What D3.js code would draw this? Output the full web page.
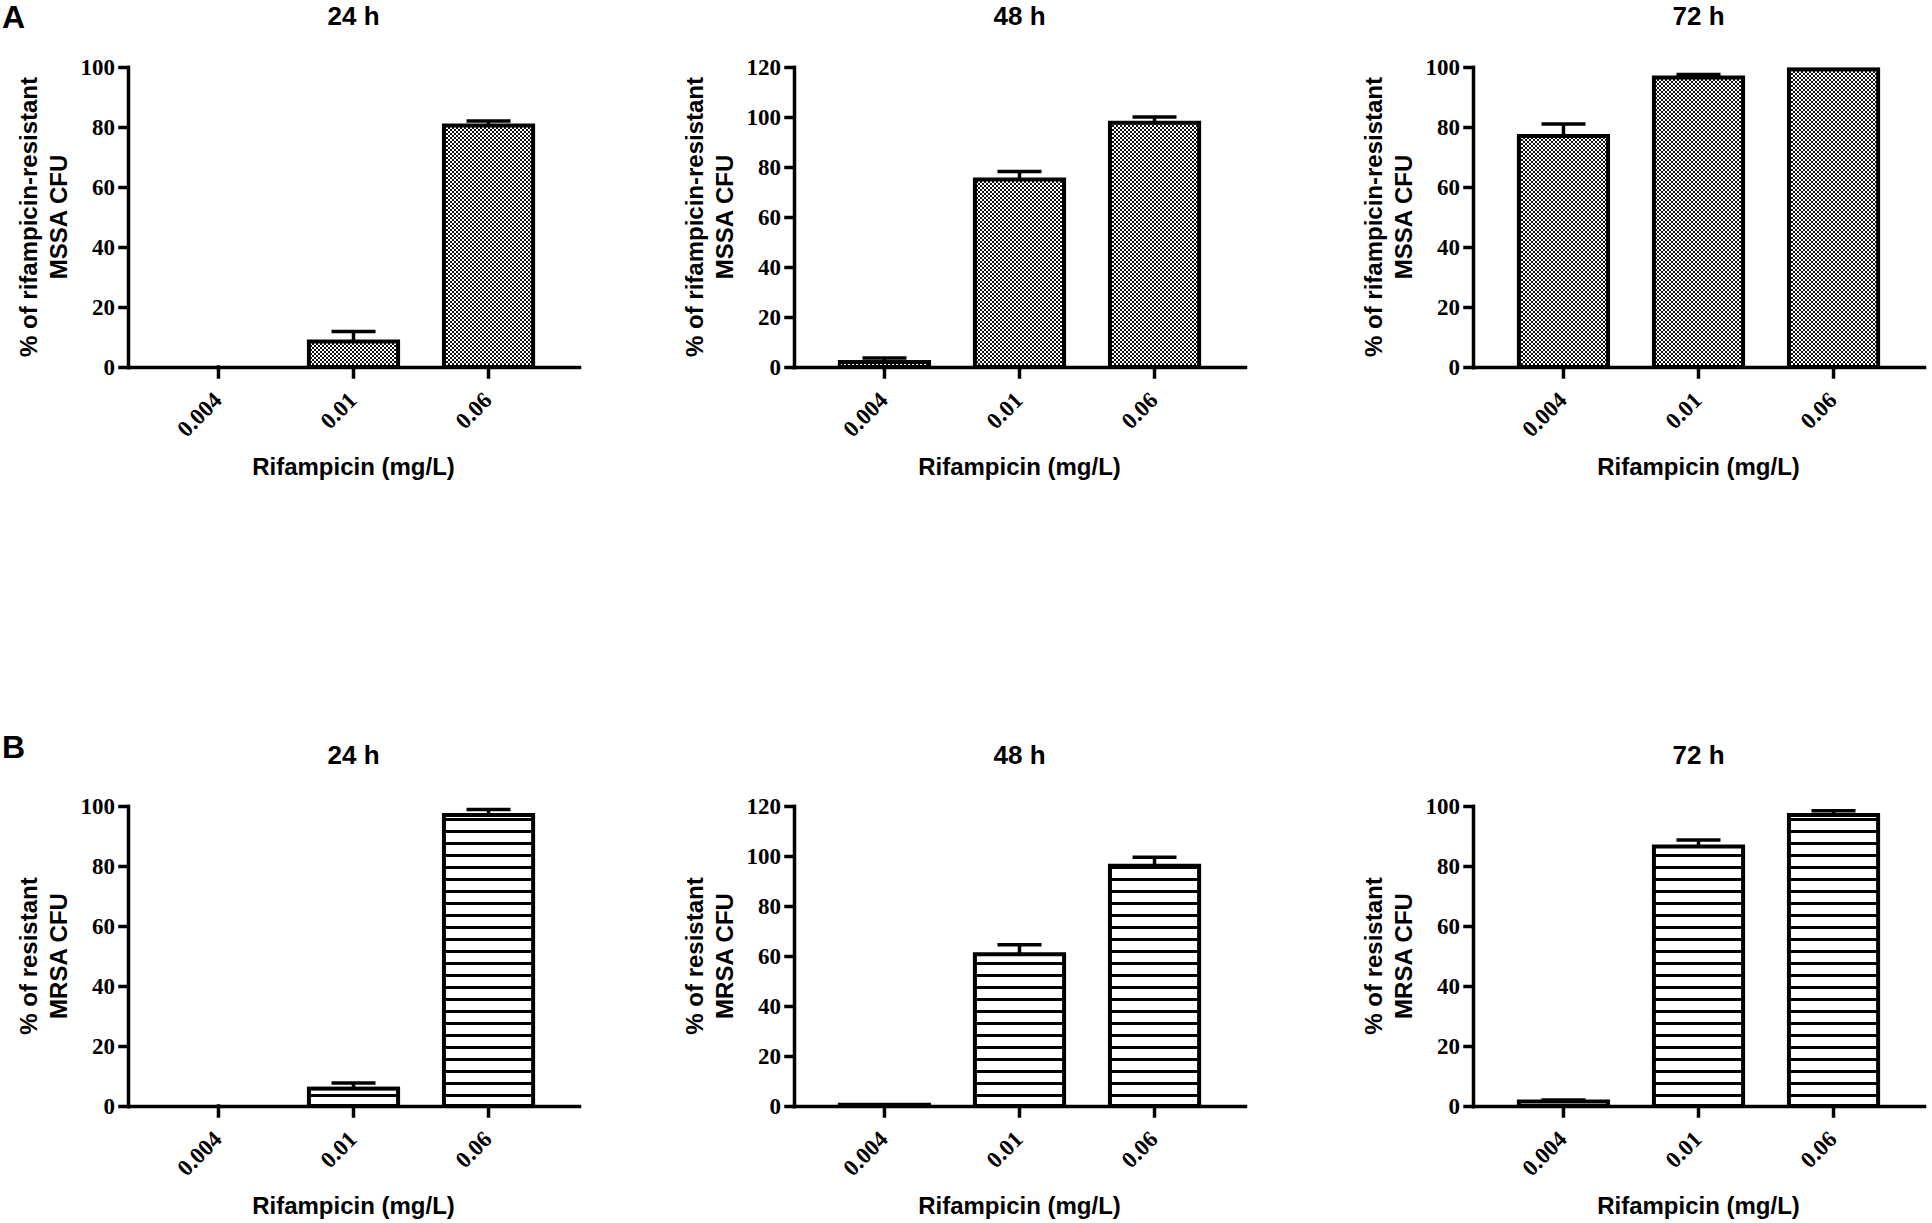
<!DOCTYPE html>
<meta charset="utf-8">
<style>
body { margin: 0; background: #fff; }
/* axes: thick black lines, bold serif numbers */
.axis path, .axis line { stroke: #000; stroke-width: 3.5px; stroke-linecap: square; }
.axis text, .xt { font-family: "Liberation Serif", "Times New Roman", serif; font-weight: bold; font-size: 23px; fill: #000; }
.lbl { font-family: "Liberation Sans", Arial, sans-serif; font-weight: bold; fill: #000; }
.bar { stroke: #000; stroke-width: 4px; }
.err { stroke: #000; stroke-width: 3.5px; }
</style>
<body></body>
<script src="https://cdn.jsdelivr.net/npm/d3@7"></script>
<script>

// categories
var concentrations = ["0.004", "0.01", "0.06"];
var timepoints = ["24 h", "48 h", "72 h"];
var yMax = [100, 120, 100];

// A: MSSA, one row per time point (mean and upper error)
var mssaMean = [[0, 8.5, 80.5], [2, 75, 97.7], [77, 96.5, 99.2]];
var mssaErr  = [[0, 3.3, 1.5], [1.6, 3.2, 2.3], [4, 1, 0]];

// B: MRSA
var mrsaMean = [[0, 5.8, 97], [0.5, 60.7, 96.1], [1.5, 86.5, 97]];
var mrsaErr  = [[0, 1.9, 1.8], [0, 3.8, 3.4], [0.5, 2.2, 1.4]];

var yLabelA = ["% of rifampicin-resistant", "MSSA CFU"];
var yLabelB = ["% of resistant", "MRSA CFU"];
var xLabel = "Rifampicin (mg/L)";

// layout
var panelLeft = [128, 794, 1473],
    plotW = 451,
    plotH = 300,
    rowTop = [67, 806],
    letterY = [28, 758];

var rows = [
    {letter: "A", mean: mssaMean, err: mssaErr, ylab: yLabelA, fill: "url(#checker)"},
    {letter: "B", mean: mrsaMean, err: mrsaErr, ylab: yLabelB, fill: "url(#stripes)"}
];

var svg = d3.select("body").append("svg")
    .attr("width", 1932)
    .attr("height", 1223);

// fill patterns
var defs = svg.append("defs");
var checker = defs.append("pattern").attr("id", "checker")
    .attr("patternUnits", "userSpaceOnUse").attr("width", 4).attr("height", 4);
checker.append("rect").attr("width", 4).attr("height", 4).attr("fill", "#fff");
checker.append("rect").attr("width", 2).attr("height", 2).attr("fill", "#111");
checker.append("rect").attr("x", 2).attr("y", 2).attr("width", 2).attr("height", 2).attr("fill", "#111");

var stripes = defs.append("pattern").attr("id", "stripes")
    .attr("patternUnits", "userSpaceOnUse").attr("width", 12).attr("height", 12);
stripes.append("rect").attr("width", 12).attr("height", 12).attr("fill", "#fff");
stripes.append("rect").attr("y", 0).attr("width", 12).attr("height", 3).attr("fill", "#000");

rows.forEach(function(row, r) {

    // panel letter
    svg.append("text")
        .attr("class", "lbl")
        .attr("x", 2)
        .attr("y", letterY[r])
        .style("font-size", "32px")
        .text(row.letter);

    timepoints.forEach(function(tp, p) {
        var g = svg.append("g")
            .attr("transform", "translate(" + panelLeft[p] + "," + rowTop[r] + ")");

        var x = d3.scaleBand().domain(concentrations).range([0, plotW])
            .paddingInner(0.31).paddingOuter(0.325);
        var y = d3.scaleLinear().domain([0, yMax[p]]).range([plotH, 0]);

        var data = concentrations.map(function(c, i) {
            return {c: c, v: row.mean[p][i], e: row.err[p][i]};
        });

        // bars
        g.selectAll(".bar")
            .data(data.filter(function(d) { return d.v > 0; }))
            .enter().append("rect")
            .attr("class", "bar")
            .attr("fill", row.fill)
            .attr("x", function(d) { return x(d.c) + 2; })
            .attr("width", x.bandwidth() - 4)
            .attr("y", function(d) { return y(d.v); })
            .attr("height", function(d) { return plotH - y(d.v); });

        // upper error bars
        var eb = g.selectAll(".eb")
            .data(data.filter(function(d) { return d.e > 0; }))
            .enter().append("g").attr("class", "eb");
        eb.append("line").attr("class", "err")
            .attr("x1", function(d) { return x(d.c) + x.bandwidth() / 2; })
            .attr("x2", function(d) { return x(d.c) + x.bandwidth() / 2; })
            .attr("y1", function(d) { return y(d.v); })
            .attr("y2", function(d) { return y(d.v + d.e); });
        eb.append("line").attr("class", "err")
            .attr("x1", function(d) { return x(d.c) + x.bandwidth() / 2 - 22; })
            .attr("x2", function(d) { return x(d.c) + x.bandwidth() / 2 + 22; })
            .attr("y1", function(d) { return y(d.v + d.e); })
            .attr("y2", function(d) { return y(d.v + d.e); });

        // y axis
        g.append("g")
            .attr("class", "axis")
            .call(d3.axisLeft(y).tickValues(d3.range(0, yMax[p] + 1, 20))
                .tickSize(8).tickSizeOuter(0).tickPadding(5));

        // x axis, labels drawn rotated below
        g.append("g")
            .attr("class", "axis")
            .attr("transform", "translate(0," + plotH + ")")
            .call(d3.axisBottom(x).tickSize(10).tickSizeOuter(0).tickFormat(""));

        g.selectAll(".xt")
            .data(concentrations)
            .enter().append("text")
            .attr("class", "xt")
            .attr("text-anchor", "end")
            .attr("dy", ".35em")
            .attr("transform", function(c) {
                return "translate(" + (x(c) + x.bandwidth() / 2 - 1) + "," + (plotH + 29) + ") rotate(-45)";
            })
            .text(function(c) { return c; });

        // title
        g.append("text")
            .attr("class", "lbl")
            .attr("x", plotW / 2)
            .attr("y", -42)
            .attr("text-anchor", "middle")
            .style("font-size", "26px")
            .text(tp);

        // x axis title
        g.append("text")
            .attr("class", "lbl")
            .attr("x", plotW / 2)
            .attr("y", plotH + 108)
            .attr("text-anchor", "middle")
            .style("font-size", "24px")
            .text(xLabel);

        // y axis title, two lines
        var yt = g.append("text")
            .attr("class", "lbl")
            .attr("transform", "translate(-91," + (plotH / 2) + ") rotate(-90)")
            .attr("text-anchor", "middle")
            .style("font-size", "24px");
        row.ylab.forEach(function(line, k) {
            yt.append("tspan").attr("x", 0).attr("dy", k === 0 ? 0 : 30).text(line);
        });
    });
});

</script>
